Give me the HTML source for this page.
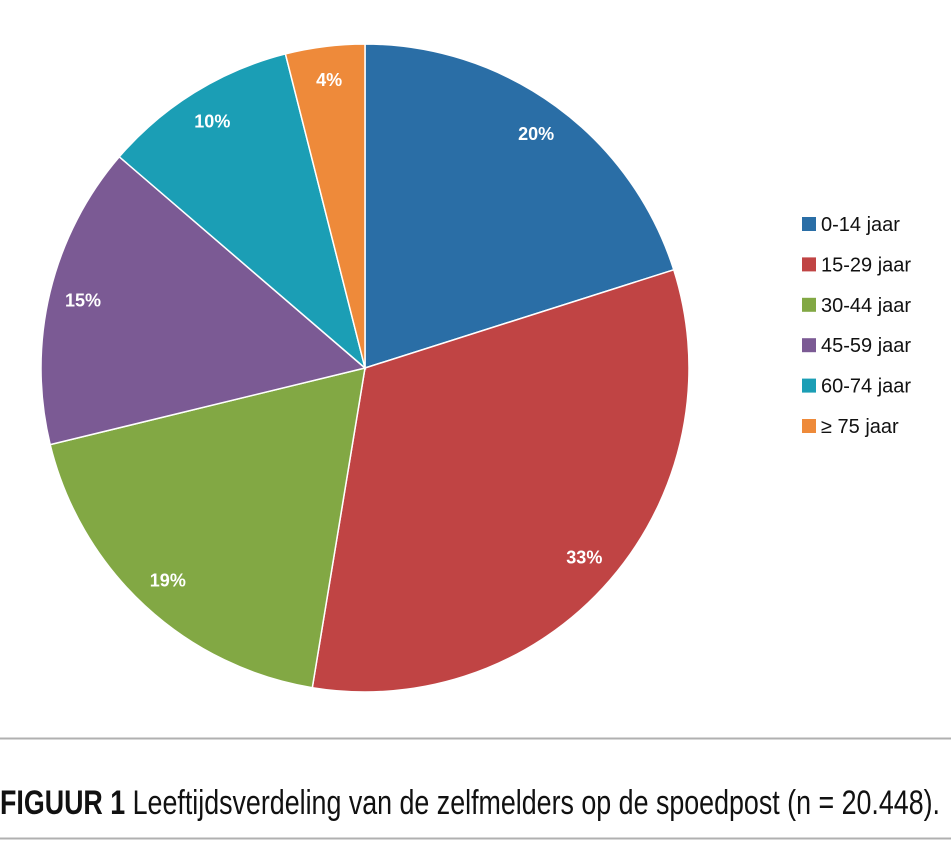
<!DOCTYPE html>
<html><head><meta charset="utf-8"><style>
body{margin:0;background:#fff;width:951px;height:850px;overflow:hidden}
svg{display:block}
</style></head><body>
<svg id="chart" width="951" height="850" viewBox="0 0 951 850" xmlns="http://www.w3.org/2000/svg">
<g id="slices"></g>
<g id="labels"></g>
<g id="legend"></g>
<line x1="0" y1="738.5" x2="951" y2="738.5" stroke="#b0b0b0" stroke-width="2"/>
<line x1="0" y1="838.5" x2="951" y2="838.5" stroke="#b0b0b0" stroke-width="2"/>
<text x="0" y="814" textLength="940" lengthAdjust="spacingAndGlyphs" font-family="'Liberation Sans Narrow','Liberation Sans',sans-serif" font-size="34" fill="#111"><tspan font-weight="bold">FIGUUR 1</tspan>  Leeftijdsverdeling van de zelfmelders op de spoedpost (n = 20.448).</text>
</svg>
<script>
const categories = ["0-14 jaar","15-29 jaar","30-44 jaar","45-59 jaar","60-74 jaar","≥ 75 jaar"];
const values = [20.1, 32.5, 18.6, 15.1, 9.75, 3.95];
const valueLabels = ["20%","33%","19%","15%","10%","4%"];
const colors = ["#2a6ea6","#c04444","#82a844","#7b5a94","#1b9eb5","#ee8a3a"];
const NS="http://www.w3.org/2000/svg";
const cx=365, cy=368, r=324;
const total=values.reduce((a,b)=>a+b,0);
function pt(frac, rad){const a=frac*2*Math.PI;return [cx+rad*Math.sin(a), cy-rad*Math.cos(a)];}
let acc=0;
const gS=document.getElementById('slices'), gL=document.getElementById('labels'), gLeg=document.getElementById('legend');
values.forEach((v,i)=>{
  const f0=acc/total, f1=(acc+v)/total; acc+=v;
  const p0=pt(f0,r), p1=pt(f1,r);
  const large=(f1-f0)>0.5?1:0;
  const p=document.createElementNS(NS,'path');
  p.setAttribute('d',`M${cx},${cy} L${p0[0]},${p0[1]} A${r},${r} 0 ${large} 1 ${p1[0]},${p1[1]} Z`);
  p.setAttribute('fill',colors[i]);p.setAttribute('stroke','#fff');p.setAttribute('stroke-width','1.5');
  
  
  gS.appendChild(p);
  const lp=pt((f0+f1)/2, r*0.895);
  const t=document.createElementNS(NS,'text');
  t.setAttribute('x',lp[0]);t.setAttribute('y',lp[1]+6);t.setAttribute('text-anchor','middle');
  t.setAttribute('font-family','Liberation Sans, sans-serif');t.setAttribute('font-weight','bold');
  t.setAttribute('font-size','18');t.setAttribute('fill','#fff');
  t.textContent=valueLabels[i];
  
  
  gL.appendChild(t);
  const y=224+i*40.4;
  const g=document.createElementNS(NS,'g');
  
  
  const sq=document.createElementNS(NS,'rect');
  sq.setAttribute('x',802);sq.setAttribute('y',y-7);sq.setAttribute('width',14);sq.setAttribute('height',14);sq.setAttribute('fill',colors[i]);
  
  
  const lt=document.createElementNS(NS,'text');
  lt.setAttribute('x',821);lt.setAttribute('y',y+7);lt.setAttribute('font-family','Liberation Sans, sans-serif');
  lt.setAttribute('font-size','20');lt.setAttribute('fill','#111');lt.textContent=categories[i];
  
  
  g.appendChild(sq);g.appendChild(lt);gLeg.appendChild(g);
});
</script>
</body></html>
